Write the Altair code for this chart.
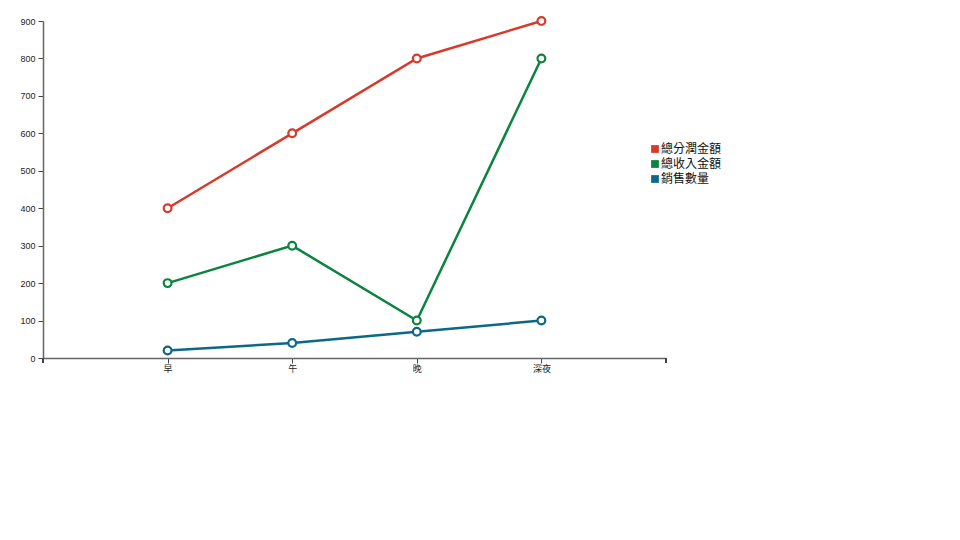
import altair as alt
import pandas as pd

periods = ["早", "午", "晚", "深夜"]
series_names = ["總分潤金額", "總收入金額", "銷售數量"]
profit = [400, 600, 800, 900]
revenue = [200, 300, 100, 800]
quantity = [20, 40, 70, 100]
colors = ["#d63a2a", "#0b8440", "#0b6888"]

rows = []
for name, vals in zip(series_names, [profit, revenue, quantity]):
    for p, v in zip(periods, vals):
        rows.append({"時段": p, "系列": name, "值": v})
df = pd.DataFrame(rows)

W, H = 623, 337

x = alt.X("時段:N", sort=periods, title=None,
          scale=alt.Scale(type="point", padding=1),
          axis=alt.Axis(labelAngle=0, labelFont="Noto Sans CJK TC", labelFontSize=9,
                        labelColor="#222", tickColor="#444", domainColor="#666",
                        domainWidth=1.5, tickSize=5, labelPadding=1))
y = alt.Y("值:Q", title=None,
          scale=alt.Scale(domain=[0, 900], nice=False),
          axis=alt.Axis(values=list(range(0, 1000, 100)), grid=False, labelFont="Liberation Sans",
                        labelFontSize=9, labelColor="#222", tickColor="#444",
                        domainColor="#666", domainWidth=1.5, tickSize=5, labelPadding=3))
sc = alt.Scale(domain=series_names, range=colors)
stroke = alt.Stroke("系列:N", sort=series_names, scale=sc, legend=None)
fill = alt.Fill("系列:N", sort=series_names, scale=sc,
                legend=alt.Legend(title=None, orient="none", legendX=606, legendY=122,
                                  symbolType="square", symbolSize=60, symbolStrokeWidth=0,
                                  symbolOpacity=1, labelFontSize=12, labelColor="#111",
                                  labelFont="Noto Sans CJK TC", rowPadding=3,
                                  labelOffset=0, labelLimit=300))

base = alt.Chart(df).encode(x=x, y=y)
lines = base.mark_line(strokeWidth=2.5).encode(stroke=stroke, detail="系列:N")
points = base.mark_point(filled=False, fill="white", fillOpacity=1, size=60,
                         strokeWidth=2.2, opacity=1).encode(stroke=stroke)
legend_layer = base.mark_square(filled=True, size=0, opacity=1).encode(fill=fill)

end_l = alt.Chart(df).mark_rule(color="#444", strokeWidth=1.2).encode(
    x=alt.value(0), y=alt.value(H), y2=alt.value(H + 5))
end_r = alt.Chart(df).mark_rule(color="#444", strokeWidth=1.2).encode(
    x=alt.value(W), y=alt.value(H), y2=alt.value(H + 5))

chart = alt.layer(legend_layer, lines, points, end_l, end_r).properties(
    width=W, height=H,
    autosize=alt.AutoSizeParams(type="none"),
    padding={"left": 35, "top": 13, "right": 280, "bottom": 170},
).configure_view(stroke=None)

chart.save("out.html", embed_options={"renderer": "svg", "actions": False})
